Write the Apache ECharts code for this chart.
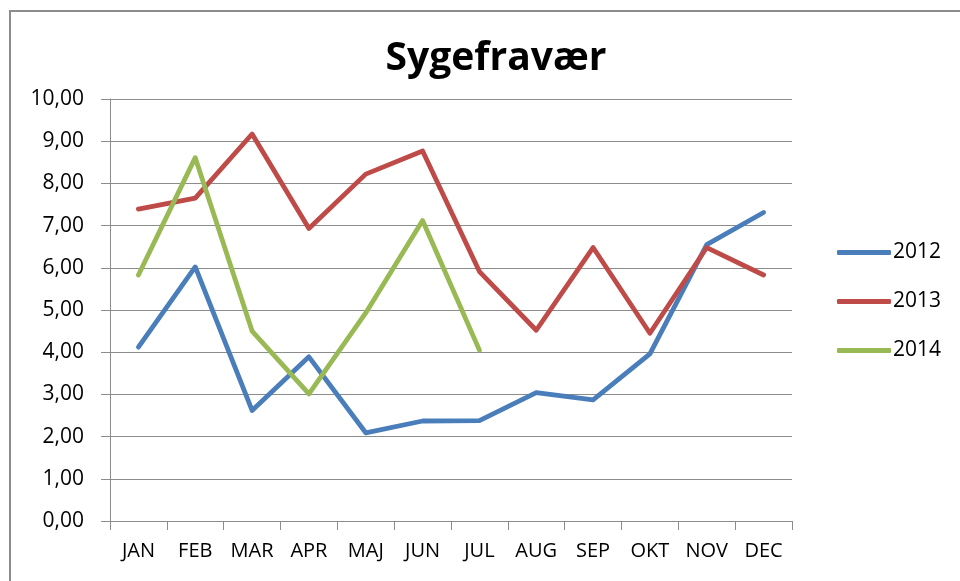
<!DOCTYPE html>
<html>
<head>
<meta charset="utf-8">
<script src="https://cdn.jsdelivr.net/npm/echarts@6/dist/echarts.min.js"></script>
<style>
html,body{margin:0;padding:0;background:#fff;}
#chart{width:960px;height:581px;}
</style>
</head>
<body>
<div id="chart"></div>
<script>
const months = ['JAN','FEB','MAR','APR','MAJ','JUN','JUL','AUG','SEP','OKT','NOV','DEC'];
const s2012 = [4.12, 6.02, 2.62, 3.89, 2.09, 2.37, 2.38, 3.04, 2.87, 3.96, 6.55, 7.31];
const s2013 = [7.39, 7.65, 9.17, 6.93, 8.22, 8.77, 5.91, 4.52, 6.48, 4.45, 6.48, 5.83];
const s2014 = [5.83, 8.61, 4.50, 3.01, 4.93, 7.12, 4.05];
const yTicks = [0,1,2,3,4,5,6,7,8,9,10];
const titleText = 'Sygefravær';
const topText = 'Fraværsstatistik';

const FONT = '"Open Sans", "Noto Sans", sans-serif';
const colors = ['#4a7ebb', '#be4b48', '#98b954'];
const names = ['2012','2013','2014'];
const data = [s2012, s2013, s2014];

const chart = echarts.init(document.getElementById('chart'), null, {renderer:'canvas'});
chart.setOption({
  backgroundColor: '#fff',
  animation: false,
  title: {
    text: titleText,
    left: 491, textAlign: 'center', top: 34,
    textStyle: {fontFamily: FONT, fontWeight: 'bold', fontSize: 39, color: '#000'}
  },
  graphic: [
    {type: 'rect', shape: {x: 10, y: 11, width: 1000, height: 1000}, style: {fill: 'none', stroke: '#8c8c8c', lineWidth: 2}, silent: true},
    {type: 'text', x: 2, y: 4, style: {text: topText, fill: '#8b1d1d', font: 'bold 20px ' + FONT, textVerticalAlign: 'bottom', verticalAlign: 'bottom'}, silent: true}
  ],
  legend: {
    orient: 'vertical',
    left: 832, top: 237,
    itemWidth: 54, itemHeight: 5, itemGap: 28,
    icon: 'roundRect',
    data: names,
    textStyle: {fontFamily: FONT, fontSize: 21, color: '#000', padding:[0,0,0,-3]}
  },
  grid: {left: 110, right: 168, top: 99, bottom: 60},
  xAxis: {
    type: 'category',
    data: months,
    boundaryGap: true,
    axisLine: {lineStyle: {color: '#8c8c8c', width: 1}},
    axisTick: {show: true, length: 9, lineStyle: {color: '#8c8c8c'}},
    axisLabel: {fontFamily: FONT, fontSize: 20, color: '#000', margin: 20, interval: 0}
  },
  yAxis: {
    type: 'value',
    min: yTicks[0], max: yTicks[yTicks.length-1], interval: 1,
    axisLine: {show: true, lineStyle: {color: '#8c8c8c', width: 1}},
    axisTick: {show: true, length: 9, lineStyle: {color: '#8c8c8c'}},
    splitLine: {lineStyle: {color: '#8c8c8c', width: 1}},
    axisLabel: {fontFamily: FONT, fontSize: 21, color: '#000', margin: 26,
      formatter: v => v.toFixed(2).replace('.', ',')}
  },
  series: names.map((n,i)=>({
    name: n,
    type: 'line',
    data: data[i],
    symbol: 'none',
    showSymbol: false,
    lineStyle: {color: colors[i], width: 4.8, cap: 'round', join: 'round'},
    itemStyle: {color: colors[i]}
  }))
});
</script>
</body>
</html>
